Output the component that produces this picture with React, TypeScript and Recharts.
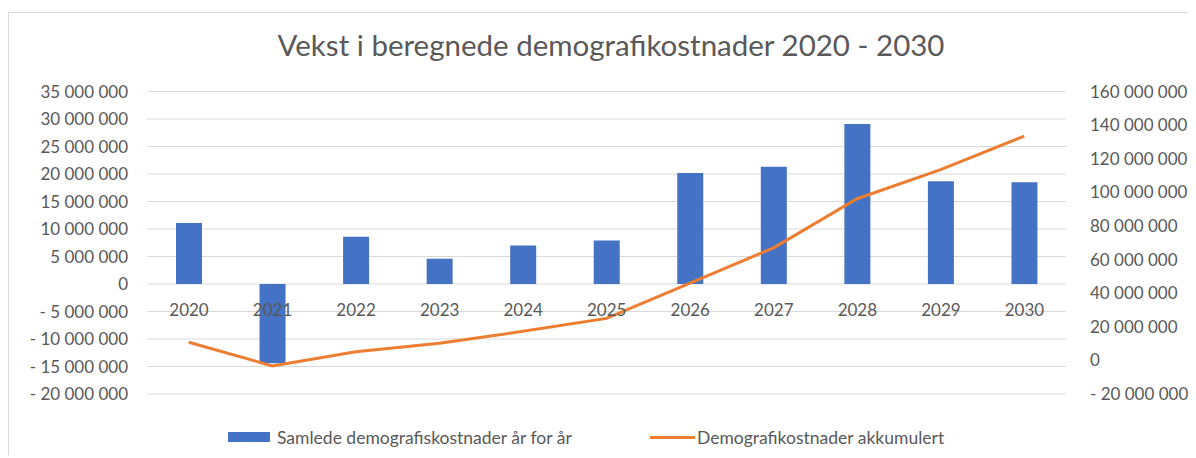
import { Bar, CartesianGrid, ComposedChart, LabelList, Legend, Line, XAxis, YAxis } from "recharts";

const years = ["2020", "2021", "2022", "2023", "2024", "2025", "2026", "2027", "2028", "2029", "2030"];
const annual = [11100000, -14400000, 8600000, 4600000, 7000000, 7900000, 20200000, 21300000, 29100000, 18700000, 18500000];
const cumulative = [10800000, -3300000, 5100000, 10200000, 17300000, 25000000, 46000000, 67000000, 96200000, 113500000, 133500000];
const leftTicks = [35000000, 30000000, 25000000, 20000000, 15000000, 10000000, 5000000, 0, -5000000, -10000000, -15000000, -20000000];
const rightTicks = [160000000, 140000000, 120000000, 100000000, 80000000, 60000000, 40000000, 20000000, 0, -20000000];

const barName = "Samlede demografiskostnader år for år";
const lineName = "Demografikostnader akkumulert";
const title = "Vekst i beregnede demografikostnader 2020 - 2030";

const data = years.map((year, i) => ({ year, annual: annual[i], cumulative: cumulative[i] }));

const FONT = "Lato, 'Open Sans', sans-serif";
const TEXT = "#595959";
const BLUE = "#4472C4";
const ORANGE = "#ED7D31";

function fmt(v: number) {
  const s = Math.abs(v).toString().replace(/\B(?=(\d{3})+(?!\d))/g, " ");
  return v < 0 ? "- " + s : s;
}

// year labels sit just under the zero line, like Excel's "next to axis"
function YearLabel(props: any) {
  const { x, y, width, height, value, index } = props;
  const top = Math.min(y, y + height);
  const bottom = Math.max(y, y + height);
  const base = value >= 0 ? bottom : top;
  return (
    <text x={x + width / 2} y={base + 25} textAnchor="middle" dominantBaseline="central" fill={TEXT} fontSize={17} fontFamily={FONT}>
      {years[index]}
    </text>
  );
}

function LegendBox() {
  return (
    <div style={{ display: "flex", alignItems: "center", height: 20, fontFamily: FONT, fontSize: 17.5, color: TEXT }}>
      <span style={{ width: 42, height: 10, background: BLUE, marginRight: 7 }} />
      <span style={{ width: 373, whiteSpace: "nowrap" }}>{barName}</span>
      <span style={{ width: 45, height: 3, background: ORANGE, marginRight: 2 }} />
      <span style={{ whiteSpace: "nowrap" }}>{lineName}</span>
    </div>
  );
}

export default function App() {
  return (
    <div style={{ position: "relative", top: 4, width: 1188, height: 446, borderTop: "1px solid #d9d9d9", borderLeft: "1px solid #d9d9d9", background: "#fff" }}>
      <div style={{ position: "absolute", top: 14, left: 602, transform: "translateX(-50%)", whiteSpace: "nowrap", fontFamily: FONT, fontSize: 29.5, lineHeight: 1.2, color: TEXT }}>
        {title}
      </div>
      <ComposedChart width={1188} height={446} data={data} margin={{ top: 78.5, right: 0, bottom: 45, left: 0 }}>
        <CartesianGrid vertical={false} stroke="#d9d9d9" strokeWidth={1} yAxisId="left" />
        <XAxis dataKey="year" hide />
        <YAxis
          yAxisId="left"
          width={138}
          domain={[-20000000, 35000000]}
          ticks={leftTicks}
          tickFormatter={fmt}
          axisLine={false}
          tickLine={false}
          tickSize={0}
          tickMargin={19}
          tick={{ fill: TEXT, fontSize: 17, fontFamily: FONT }}
          interval={0}
        />
        <YAxis
          yAxisId="right"
          orientation="right"
          width={131}
          domain={[-20000000, 160000000]}
          ticks={rightTicks}
          tickFormatter={fmt}
          axisLine={false}
          tickLine={false}
          tickSize={0}
          tickMargin={24}
          tick={{ fill: TEXT, fontSize: 17, fontFamily: FONT, textAnchor: "start" }}
          interval={0}
        />
        <Bar yAxisId="left" dataKey="annual" name={barName} fill={BLUE} barSize={26} isAnimationActive={false}>
          <LabelList dataKey="annual" content={<YearLabel />} />
        </Bar>
        <Line
          yAxisId="right"
          dataKey="cumulative"
          name={lineName}
          type="linear"
          stroke={ORANGE}
          strokeWidth={3}
          dot={false}
          activeDot={false}
          isAnimationActive={false}
        />
        <Legend content={<LegendBox />} wrapperStyle={{ top: 414, left: 219, width: "auto", height: 20 }} />
      </ComposedChart>
    </div>
  );
}
